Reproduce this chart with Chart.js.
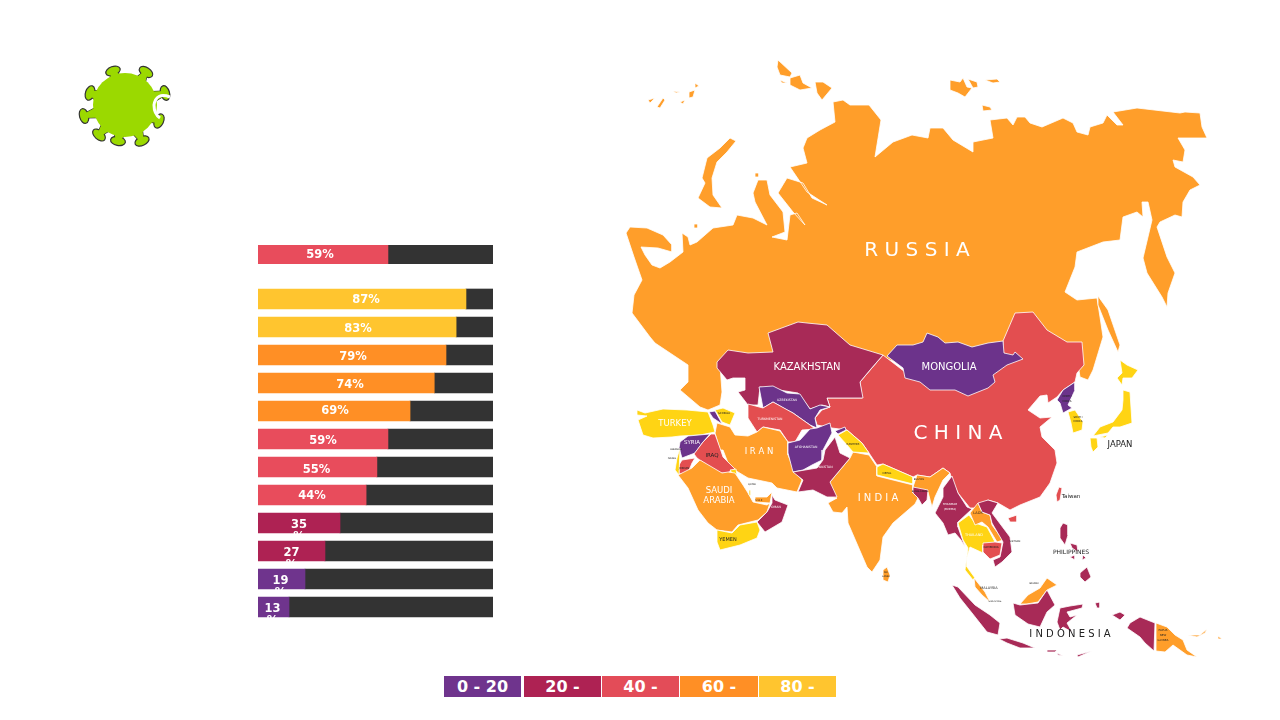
<!DOCTYPE html>
<html>
<head>
<meta charset="utf-8">
<style>
  html, body { margin: 0; background: #fff; width: 1280px; height: 720px; overflow: hidden; font-family: "DejaVu Sans", sans-serif; }
  canvas, svg { position: absolute; }
  #legend div { position: absolute; top: 676px; height: 21px; line-height: 21px; color: #fff; font-weight: bold; font-size: 16px; text-align: center; }
</style>
<script src="https://cdn.jsdelivr.net/npm/chart.js@4"></script>
</head>
<body>
<svg id="virus" width="130" height="110" viewBox="60 50 130 110" style="left:60px;top:50px"></svg>
<canvas id="asiaChart" width="235" height="19" style="left:258px;top:245px"></canvas>
<canvas id="ratesChart" width="235" height="336" style="left:258px;top:285px"></canvas>
<canvas id="mapChart" width="620" height="620" style="left:620px;top:50px"></canvas>
<div id="legend"></div>

<script>
// colours
const PURPLE = '#6C338B', CRIMSON = '#A82A57', RED = '#E34E50', ORANGE = '#FF9E2A', YELLOW = '#FFD414';
const BAR_PURPLE = '#6F348D', BAR_CRIMSON = '#AE2253', BAR_RED = '#E84C5C', BAR_ORANGE = '#FF8F25', BAR_YELLOW = '#FFC52F';
const DARK = '#333333';

// --- bars ---
const asiaValue = [55.3];
const asiaLabel = ['59%'];
const asiaNudge = [[-3, 1]];
const rateValues = [88.5, 84.3, 80, 75, 64.7, 55.3, 50.6, 46, 34.9, 28.5, 20, 13.2];
const rateLabels = ['87%', '83%', '79%', '74%', '69%', '59%', '55%', '44%', ['35', '%'], ['27', '%'], ['19', '%'], ['13', '%']];
const rateColors = [BAR_YELLOW, BAR_YELLOW, BAR_ORANGE, BAR_ORANGE, BAR_ORANGE, BAR_RED, BAR_RED, BAR_RED, BAR_CRIMSON, BAR_CRIMSON, BAR_PURPLE, BAR_PURPLE];
const rateNudge = [[4,1],[1,2],[1,2],[4,2],[1,0],[0,2],[-1,3],[0,1],[0,2],[0,2],[-1,2],[-1,2]];

// --- legend ---
const legendLabels = ['0 - 20', '20 -', '40 -', '60 -', '80 -'];
const legendColors = [BAR_PURPLE, BAR_CRIMSON, '#E34C58', BAR_ORANGE, BAR_YELLOW];
const legendLeft = [444, 524, 602, 680, 759];
const legendWidth = [77, 77, 77, 78, 77];

// --- map outlines, in map grid units ---
const russia = [[626,233],[630,227],[647,228],[663,235],[672,245],[672,252],[658,248],[641,247],[645,255],[652,265],[660,268],[670,262],[683,252],[682,233],[688,237],[690,245],[697,242],[713,228],[733,225],[737,215],[753,218],[767,225],[755,202],[753,193],[758,180],[767,180],[770,195],[783,212],[785,232],[772,237],[787,240],[790,215],[797,213],[805,225],[793,212],[778,193],[787,178],[803,183],[812,198],[827,205],[807,192],[790,167],[807,163],[803,148],[807,138],[820,130],[835,122],[833,102],[843,100],[850,105],[869,105],[881,120],[875,157],[893,142],[912,135],[928,138],[930,128],[943,128],[953,140],[973,152],[973,142],[993,138],[990,120],[1007,118],[1013,125],[1017,117],[1025,117],[1030,123],[1042,127],[1063,118],[1073,123],[1077,132],[1088,135],[1090,127],[1103,123],[1107,115],[1117,125],[1123,125],[1113,112],[1137,108],[1180,113],[1185,112],[1200,113],[1202,127],[1207,138],[1188,138],[1178,138],[1185,150],[1183,162],[1173,160],[1175,167],[1193,177],[1200,185],[1190,190],[1183,202],[1182,217],[1175,215],[1160,222],[1157,227],[1162,242],[1167,257],[1175,273],[1168,293],[1167,307],[1162,297],[1147,273],[1143,258],[1152,220],[1148,202],[1142,202],[1143,217],[1137,212],[1123,217],[1120,240],[1103,242],[1077,252],[1075,267],[1065,292],[1077,300],[1097,298],[1100,317],[1103,337],[1093,370],[1088,380],[1080,377],[1075,345],[1010,345],[1000,360],[905,365],[875,355],[760,360],[720,365],[722,392],[720,405],[708,410],[700,407],[680,390],[688,382],[688,365],[655,343],[650,337],[632,313],[634,295],[642,280],[634,257]];
const sakhalin = [[1098,296],[1108,310],[1120,345],[1118,352],[1108,330],[1098,305]];
const novayaZemlya = [[730,138],[736,141],[727,152],[717,162],[712,178],[713,195],[722,208],[710,207],[698,198],[705,183],[702,178],[707,158],[720,148]];
const kolguev = [[694,224],[698,224],[698,228],[694,228]];
const vaygach = [[755,173],[759,173],[759,177],[755,177]];
const franzJosef1 = [[648,100],[655,98],[650,103]];
const franzJosef2 = [[657,107],[663,98],[665,100],[660,108]];
const franzJosef3 = [[680,102],[685,100],[683,104]];
const franzJosef4 = [[689,92],[695,90],[693,97],[689,98]];
const franzJosef5 = [[695,83],[699,86],[695,88]];
const franzJosef6 = [[673,91],[680,92],[676,93]];
const severnaya1 = [[778,60],[792,73],[790,77],[780,75],[777,67]];
const severnaya2 = [[790,78],[800,75],[803,83],[812,88],[800,90],[790,85]];
const severnaya3 = [[815,82],[823,82],[832,88],[822,100],[817,93]];
const severnaya4 = [[780,80],[787,83],[782,83]];
const newSiberian1 = [[950,80],[960,82],[963,78],[967,87],[972,88],[965,97],[958,93],[950,90]];
const newSiberian2 = [[968,79],[977,82],[978,87],[973,88]];
const newSiberian3 = [[985,80],[997,79],[1000,82],[993,83]];
const newSiberian4 = [[982,105],[990,107],[992,110],[983,111]];
const china = [[815,418],[822,410],[830,407],[827,398],[862,398],[860,382],[883,355],[905,372],[990,370],[1003,345],[1003,341],[1012,320],[1015,313],[1033,312],[1047,330],[1067,342],[1082,342],[1084,365],[1077,373],[1075,382],[1063,390],[1057,397],[1048,403],[1047,395],[1040,396],[1028,410],[1040,418],[1052,417],[1040,427],[1042,437],[1055,450],[1057,463],[1050,483],[1040,497],[1020,505],[1010,510],[998,503],[988,500],[977,508],[970,508],[958,493],[952,480],[950,473],[943,468],[930,477],[917,475],[913,477],[883,464],[877,465],[869,453],[862,443],[847,430],[832,428],[817,425]];
const hainan = [[1008,518],[1017,515],[1017,522],[1010,522]];
const taiwan = [[1056,495],[1059,487],[1062,488],[1060,500],[1057,502]];
const mongolia = [[887,356],[897,345],[913,345],[923,342],[927,333],[938,337],[945,343],[958,342],[972,347],[988,343],[1003,341],[1004,353],[1013,355],[1015,352],[1023,359],[1007,365],[993,375],[995,382],[988,388],[968,396],[955,390],[930,390],[920,382],[905,378],[903,368]];
const kazakhstan = [[717,362],[728,350],[748,353],[773,352],[768,333],[798,322],[807,323],[827,325],[850,345],[883,355],[870,370],[860,382],[863,398],[827,398],[830,407],[822,405],[810,409],[798,393],[760,387],[758,405],[748,405],[738,392],[745,390],[745,378],[733,378],[727,380],[717,368]];
const uzbekistan = [[759,387],[773,386],[787,393],[800,394],[810,409],[820,405],[830,407],[820,410],[815,418],[817,428],[810,425],[793,413],[787,410],[773,402],[763,408]];
const turkmenistan = [[748,404],[763,408],[773,402],[793,413],[810,425],[815,429],[802,430],[795,442],[788,442],[780,430],[763,427],[757,432],[748,418]];
const afghanistan = [[788,443],[800,440],[810,429],[817,428],[830,423],[832,433],[823,450],[822,460],[812,465],[803,470],[793,472],[788,453]];
const tajikTip = [[835,431],[845,427],[846,430],[838,434]];
const pakistan = [[793,472],[817,468],[823,460],[825,450],[835,437],[840,453],[850,458],[830,482],[837,497],[827,497],[813,490],[798,492],[803,480]];
const kashmir = [[838,435],[847,430],[862,443],[869,453],[853,452],[847,445]];
const india = [[850,458],[853,452],[869,455],[877,467],[877,476],[897,481],[913,485],[913,493],[918,498],[915,504],[893,523],[883,537],[880,560],[872,572],[867,567],[848,523],[847,507],[842,513],[833,512],[828,503],[837,498],[828,497],[830,482]];
const nepal = [[877,467],[883,464],[913,477],[913,484],[897,480],[877,475]];
const indiaEast = [[913,487],[917,475],[930,477],[943,468],[950,473],[943,480],[935,497],[932,507],[928,492],[920,490]];
const bangladesh = [[913,487],[928,490],[927,500],[922,505],[918,498],[913,493]];
const myanmar = [[952,476],[958,493],[967,507],[972,509],[958,522],[958,527],[965,547],[961,540],[955,533],[948,535],[943,523],[935,513],[943,497],[943,488]];
const thailand = [[958,523],[969,515],[975,523],[987,527],[995,542],[983,545],[983,553],[970,547],[967,557],[967,567],[975,578],[973,580],[965,570],[968,548],[963,540]];
const laos = [[970,513],[978,503],[982,512],[990,515],[992,525],[1003,540],[997,542],[988,527],[982,522],[975,525]];
const vietnam = [[978,503],[988,500],[998,503],[992,513],[1010,537],[1012,552],[1002,562],[995,567],[993,560],[1000,557],[1003,542],[992,523],[990,515],[982,512]];
const cambodia = [[983,543],[995,542],[1002,543],[1000,555],[990,559],[983,552]];
const malaya = [[974,578],[978,583],[985,592],[990,602],[982,595],[975,587]];
const eastMalaysia = [[1020,604],[1028,595],[1040,588],[1047,578],[1057,585],[1047,590],[1038,602],[1027,604]];
const borneo = [[1013,603],[1020,605],[1038,603],[1047,590],[1055,605],[1047,612],[1040,627],[1028,624],[1015,615]];
const sumatra = [[952,585],[958,587],[975,605],[990,615],[1000,623],[998,635],[987,632],[972,613],[960,598]];
const java = [[999,639],[1007,638],[1023,643],[1035,648],[1020,648],[1007,643]];
const sunda1 = [[1047,650],[1057,650],[1055,652],[1047,652]];
const sunda2 = [[1077,655],[1092,651],[1087,653],[1078,657]];
const sunda3 = [[1057,653],[1063,656],[1058,655]];
const sulawesi = [[1057,622],[1060,608],[1070,606],[1083,604],[1082,608],[1067,612],[1070,617],[1077,615],[1067,623],[1072,632],[1063,627],[1060,630]];
const moluccas = [[1095,603],[1100,602],[1100,608],[1097,608]];
const birdHead = [[1112,615],[1120,612],[1125,615],[1120,620]];
const papua = [[1130,623],[1140,617],[1155,623],[1154,651],[1145,643],[1140,637],[1127,628]];
const png = [[1156,623],[1167,627],[1175,635],[1183,640],[1187,650],[1197,657],[1187,655],[1173,645],[1165,652],[1156,651]];
const newBritain = [[1188,635],[1200,635],[1207,629],[1205,633],[1197,637]];
const newIreland = [[1218,636],[1222,639],[1218,639]];
const luzon = [[1060,528],[1063,523],[1068,525],[1068,535],[1065,545],[1060,538]];
const visayas = [[1070,543],[1077,545],[1078,552],[1072,548]];
const palawan = [[1070,557],[1075,555],[1075,560]];
const samar = [[1083,555],[1086,558],[1082,560]];
const mindanao = [[1080,573],[1087,567],[1091,577],[1085,582],[1080,577]];
const northKorea = [[1075,382],[1075,390],[1068,405],[1072,408],[1063,413],[1060,403],[1057,400],[1063,390]];
const southKorea = [[1068,412],[1075,410],[1083,422],[1082,430],[1073,433],[1071,423]];
const hokkaido = [[1120,360],[1127,365],[1138,370],[1132,378],[1123,378],[1122,385],[1117,378],[1122,373]];
const honshu = [[1123,390],[1130,392],[1132,423],[1120,427],[1113,427],[1108,433],[1093,436],[1100,427],[1113,422],[1122,410],[1123,400]];
const kyushu = [[1090,438],[1097,438],[1098,447],[1093,452],[1091,447]];
const shikoku = [[1100,437],[1108,435],[1105,438]];
const turkey = [[637,410],[645,413],[663,409],[687,410],[708,412],[713,425],[715,432],[700,435],[680,436],[672,437],[653,438],[643,435],[638,420],[647,416],[637,415]];
const armenia = [[709,412],[715,411],[720,420],[722,424],[713,418]];
const caucasus = [[715,410],[723,408],[735,413],[730,425],[722,422]];
const iran = [[715,433],[717,423],[730,427],[735,435],[748,436],[757,432],[763,427],[780,431],[788,442],[788,455],[795,472],[802,480],[797,492],[777,488],[772,483],[748,478],[738,472],[730,468],[723,450],[720,450]];
const syria = [[680,442],[688,436],[710,434],[703,442],[695,453],[682,458],[679,448]];
const iraq = [[711,434],[715,434],[720,448],[723,457],[735,469],[727,473],[718,473],[697,458],[694,454],[703,442]];
const jordan = [[682,460],[695,458],[692,463],[688,473],[679,474],[679,465]];
const israel = [[677,458],[680,448],[679,475],[675,470]];
const kuwait = [[730,470],[736,469],[737,475],[732,473]];
const saudi = [[678,475],[692,468],[700,460],[722,473],[728,472],[735,473],[743,485],[748,493],[753,502],[767,505],[770,503],[767,512],[758,520],[738,525],[732,532],[717,530],[708,523],[698,510],[688,488]];
const uae = [[755,497],[767,497],[772,492],[770,503],[755,502]];
const qatar = [[749,490],[751,490],[751,496],[749,495]];
const oman = [[772,495],[775,500],[788,505],[782,522],[765,532],[757,522],[767,512],[772,503]];
const yemen = [[717,530],[732,533],[740,525],[757,522],[760,530],[757,538],[740,545],[720,550],[717,542]];
const sriLanka = [[883,570],[887,567],[890,575],[888,582],[883,580]];

// bottom to top, borders overlap underneath
const mapRegions = [
  [russia, ORANGE], [sakhalin, ORANGE], [novayaZemlya, ORANGE], [kolguev, ORANGE], [vaygach, ORANGE],
  [franzJosef1, ORANGE], [franzJosef2, ORANGE], [franzJosef3, ORANGE], [franzJosef4, ORANGE], [franzJosef5, ORANGE], [franzJosef6, ORANGE],
  [severnaya1, ORANGE], [severnaya2, ORANGE], [severnaya3, ORANGE], [severnaya4, ORANGE], [newSiberian1, ORANGE], [newSiberian2, ORANGE], [newSiberian3, ORANGE], [newSiberian4, ORANGE],
  [china, RED], [hainan, RED], [taiwan, RED], [kazakhstan, CRIMSON], [mongolia, PURPLE], [uzbekistan, PURPLE], [turkmenistan, RED],
  [iran, ORANGE], [afghanistan, PURPLE], [tajikTip, PURPLE], [india, ORANGE], [pakistan, CRIMSON], [kashmir, YELLOW], [nepal, YELLOW], [indiaEast, ORANGE], [bangladesh, CRIMSON],
  [myanmar, CRIMSON], [thailand, YELLOW], [laos, ORANGE], [vietnam, CRIMSON], [cambodia, RED], [malaya, ORANGE], [eastMalaysia, ORANGE], [borneo, CRIMSON],
  [sumatra, CRIMSON], [java, CRIMSON], [sunda1, CRIMSON], [sunda2, CRIMSON], [sunda3, CRIMSON], [sulawesi, CRIMSON], [moluccas, CRIMSON], [birdHead, CRIMSON], [papua, CRIMSON],
  [png, ORANGE], [newBritain, ORANGE], [newIreland, ORANGE], [luzon, CRIMSON], [visayas, CRIMSON], [palawan, CRIMSON], [samar, CRIMSON], [mindanao, CRIMSON],
  [northKorea, PURPLE], [southKorea, YELLOW], [hokkaido, YELLOW], [honshu, YELLOW], [kyushu, YELLOW], [shikoku, YELLOW],
  [turkey, YELLOW], [armenia, PURPLE], [caucasus, YELLOW], [syria, PURPLE], [iraq, RED], [jordan, RED], [israel, YELLOW], [kuwait, YELLOW],
  [saudi, ORANGE], [uae, ORANGE], [qatar, YELLOW], [oman, CRIMSON], [yemen, YELLOW], [sriLanka, ORANGE]
];

// name, x, y, font size, colour
const WHITE = '#ffffff', INK = '#222222';
const mapLabels = [
  ['R U S S I A', 917, 251, 20, WHITE], ['C H I N A', 958, 434, 20, WHITE], ['KAZAKHSTAN', 807, 367, 10, WHITE], ['MONGOLIA', 949, 367, 10, WHITE],
  ['TURKEY', 675, 424, 8.5, WHITE], ['I R A N', 759, 452, 8.5, WHITE], ['I N D I A', 878, 498, 10, WHITE], ['SAUDI', 719, 491, 8.5, WHITE], ['ARABIA', 719, 501, 8.5, WHITE],
  ['JAPAN', 1120, 445, 8.5, INK], ['I N D O N E S I A', 1070, 634, 10, INK], ['Taiwan', 1071, 497, 5.5, INK], ['PHILIPPINES', 1071, 552, 6, INK],
  ['IRAQ', 712, 456, 5.5, INK], ['SYRIA', 692, 443, 5.5, WHITE], ['YEMEN', 728, 540, 5, INK], ['UZBEKISTAN', 787, 400, 3.2, WHITE], ['TURKMENISTAN', 770, 419, 3.2, WHITE],
  ['AFGHANISTAN', 806, 447, 3.2, WHITE], ['PAKISTAN', 825, 467, 3.2, WHITE], ['OMAN', 776, 507, 3.2, WHITE], ['KASHMIR', 853, 444, 2.8, INK], ['NEPAL', 887, 473, 2.8, INK],
  ['BHUTAN', 919, 479, 2.5, INK], ['BANGLADESH', 920, 491, 2.4, INK], ['MYANMAR', 950, 504, 2.8, WHITE], ['(BURMA)', 950, 509, 2.8, WHITE], ['LAOS', 978, 513, 3.5, INK],
  ['THAILAND', 974, 535, 3.5, WHITE], ['CAMBODIA', 991, 547, 2.8, INK], ['VIETNAM', 1015, 541, 2.4, INK], ['MALAYSIA', 989, 588, 3.5, INK], ['SINGAPORE', 995, 601, 2.2, INK],
  ['BRUNEI', 1034, 583, 2.4, INK], ['PAPUA', 1163, 630, 2.8, INK], ['NEW', 1163, 635, 2.8, INK], ['GUINEA', 1163, 640, 2.8, INK], ['NORTH', 1067, 396, 2.6, INK], ['KOREA', 1067, 401, 2.6, INK],
  ['SOUTH', 1078, 417, 2.6, INK], ['KOREA', 1078, 421, 2.6, INK], ['JORDAN', 684, 468, 2.6, INK], ['LEBANON', 676, 449, 2.4, INK], ['ISRAEL', 672, 458, 2.4, INK], ['QATAR', 752, 484, 2.4, INK],
  ['U.A.E', 759, 500, 2.6, INK], ['GEORGIA', 724, 413, 2.6, INK], ['SRI', 886, 572, 2.4, INK], ['LANKA', 886, 576, 2.4, INK]
];

// text in the middle of each coloured bar, long ones break and the % falls off the bar
const barTextPlugin = {
  id: 'barText',
  afterDatasetsDraw(chart, args, opts) {
    const { ctx } = chart;
    const meta = chart.getDatasetMeta(0);
    ctx.save();
    ctx.fillStyle = '#ffffff';
    ctx.font = 'bold 11.5px "DejaVu Sans"';
    ctx.textAlign = 'center';
    ctx.textBaseline = 'middle';
    meta.data.forEach((bar, i) => {
      const x = (bar.x + bar.base) / 2 + opts.nudge[i][0];
      [].concat(opts.labels[i]).forEach((line, k) => ctx.fillText(line, x, bar.y + opts.nudge[i][1] + k * 12.5));
    });
    ctx.restore();
  }
};

const mapTextPlugin = {
  id: 'mapText',
  afterDatasetsDraw(chart) {
    const { ctx, scales } = chart;
    ctx.save();
    ctx.textAlign = 'center';
    ctx.textBaseline = 'middle';
    mapLabels.forEach(([name, x, y, size, color]) => {
      ctx.font = size + 'px "DejaVu Sans"';
      ctx.fillStyle = color;
      ctx.fillText(name, scales.x.getPixelForValue(x), scales.y.getPixelForValue(y));
    });
    ctx.restore();
  }
};

function makeBars(id, values, labels, nudge, colors, thickness) {
  new Chart(document.getElementById(id), {
    type: 'bar',
    data: {
      labels: values.map((v, i) => i),
      datasets: [
        { data: values, backgroundColor: colors, barThickness: thickness },
        { data: values.map(v => 100 - v), backgroundColor: DARK, barThickness: thickness }
      ]
    },
    plugins: [barTextPlugin],
    options: {
      indexAxis: 'y',
      responsive: false,
      animation: false,
      layout: { padding: 0 },
      scales: {
        x: { stacked: true, min: 0, max: 100, display: false },
        y: { stacked: true, display: false }
      },
      plugins: { legend: { display: false }, tooltip: { enabled: false }, barText: { labels: labels, nudge: nudge } }
    }
  });
}

makeBars('asiaChart', asiaValue, asiaLabel, asiaNudge, [BAR_RED], 19);
makeBars('ratesChart', rateValues, rateLabels, rateNudge, rateColors, 20);

// the map is a scatter chart, each country a closed filled line
// chart.js paints the last dataset first, so the list goes in backwards
new Chart(document.getElementById('mapChart'), {
  type: 'scatter',
  data: {
    datasets: mapRegions.slice().reverse().map(([outline, color]) => ({
      data: outline.concat([outline[0]]),
      showLine: true,
      fill: 'shape',
      tension: 0,
      pointRadius: 0,
      borderWidth: 0.8,
      borderColor: '#ffffff',
      backgroundColor: color
    }))
  },
  plugins: [mapTextPlugin],
  options: {
    responsive: false,
    animation: false,
    layout: { padding: 0 },
    scales: {
      x: { type: 'linear', min: 620, max: 1240, display: false },
      y: { type: 'linear', min: 50, max: 670, reverse: true, display: false }
    },
    plugins: { legend: { display: false }, tooltip: { enabled: false } }
  }
});

// legend strip
legendLabels.forEach((text, i) => {
  const d = document.createElement('div');
  d.textContent = text;
  d.style.left = legendLeft[i] + 'px';
  d.style.width = legendWidth[i] + 'px';
  d.style.background = legendColors[i];
  document.getElementById('legend').appendChild(d);
});

// virus icon
const spikes = [[113,71],[146,72],[165,93],[159,121],[142,141],[118,141],[99,135],[84,116],[90,93]];
let svg = '';
spikes.forEach(s => {
  const dx = s[0] - 125, dy = s[1] - 105;
  const l = Math.hypot(dx, dy), ax = dx / l, ay = dy / l;
  const a = (Math.atan2(dy, dx) * 180 / Math.PI) + 90;
  const bx = 125 + ax * 30, by = 105 + ay * 30;
  const stalk = `M${bx - ay * 5} ${by + ax * 5} L${s[0] - ay * 2} ${s[1] + ax * 2} L${s[0] + ay * 2} ${s[1] - ax * 2} L${bx + ay * 5} ${by - ax * 5}Z`;
  svg += `<path d="${stalk}" fill="#9BD900" stroke="#333" stroke-width="1.2"/>`;
  svg += `<ellipse cx="${s[0]}" cy="${s[1]}" rx="7.5" ry="4.5" transform="rotate(${a} ${s[0]} ${s[1]})" fill="#9BD900" stroke="#333" stroke-width="1.2"/>`;
  svg += `<path d="${stalk}" fill="#9BD900"/>`;
});
svg += '<circle cx="125" cy="105" r="32" fill="#9BD900"/>';
svg += '<path d="M170 97 Q156 92 154 105 Q154 114 160 118" fill="none" stroke="#fff" stroke-width="3"/>';
document.getElementById('virus').innerHTML = svg;
</script>
</body>
</html>
